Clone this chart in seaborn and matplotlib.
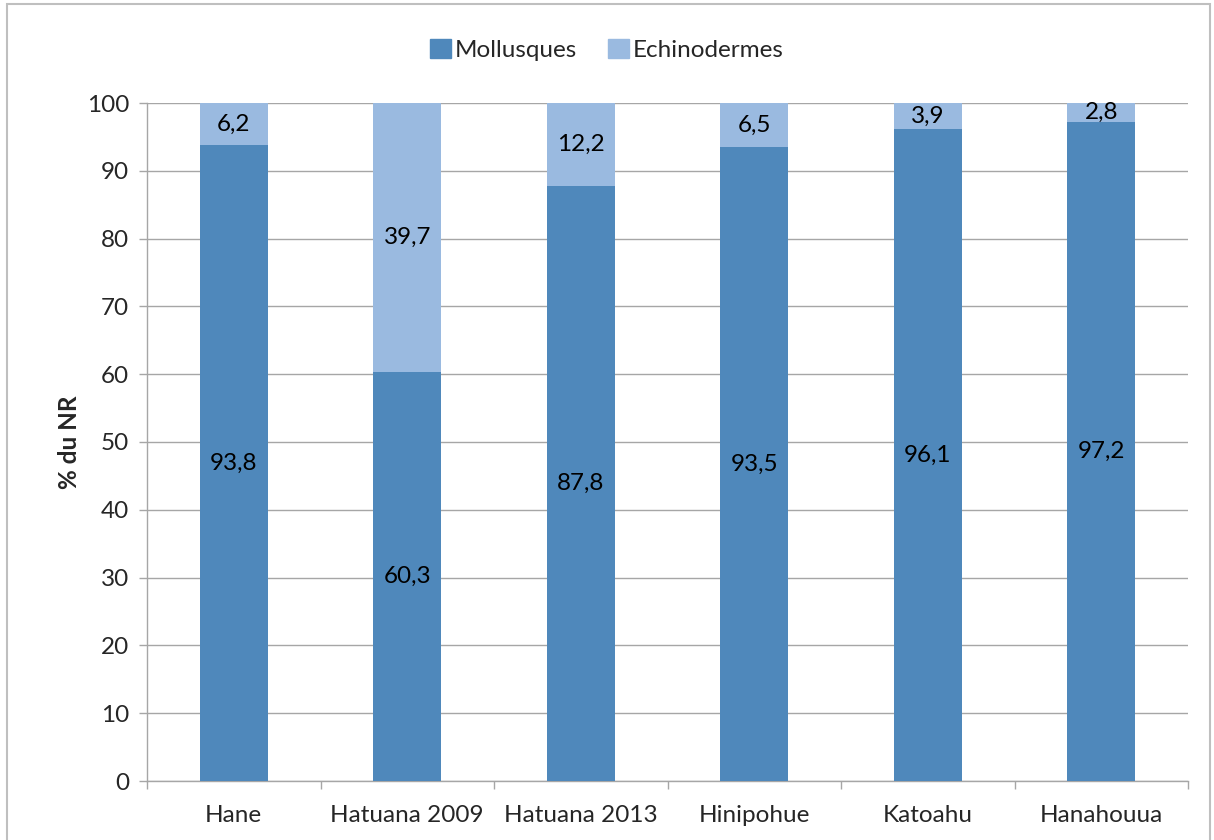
import numpy as np
import pandas as pd
import matplotlib
matplotlib.use("Agg")
import matplotlib.pyplot as plt
import seaborn as sns
from matplotlib.patches import Rectangle, Patch

sites = ["Hane", "Hatuana 2009", "Hatuana 2013", "Hinipohue", "Katoahu", "Hanahouua"]
mollusques = [93.8, 60.3, 87.8, 93.5, 96.1, 97.2]
echinodermes = [6.2, 39.7, 12.2, 6.5, 3.9, 2.8]

dark = "#4F88BB"
light = "#9ABAE0"
grey = "#A6A6A6"
fs = 17.5

sns.set_theme(style="white")
plt.rcParams["font.family"] = ["Lato", "DejaVu Sans"]

df = pd.DataFrame({"site": sites, "moll": mollusques, "echi": echinodermes})
df["total"] = df["moll"] + df["echi"]

fig = plt.figure(figsize=(12.14, 8.4), dpi=100)
ax = fig.add_axes([147 / 1214, 1 - 781 / 840, (1188 - 147) / 1214, (781 - 103) / 840])

# stacked: total bar (light) then mollusques (dark) on top
sns.barplot(data=df, x="site", y="total", color=light, saturation=1, width=0.39,
            linewidth=0, ax=ax, zorder=3)
sns.barplot(data=df, x="site", y="moll", color=dark, saturation=1, width=0.39,
            linewidth=0, ax=ax, zorder=3)

top_bars = ax.containers[0]
bot_bars = ax.containers[1]
for rect, m, e in zip(top_bars, mollusques, echinodermes):
    ax.text(rect.get_x() + rect.get_width() / 2, m + e / 2, f"{e:.1f}".replace(".", ","),
            ha="center", va="center", fontsize=fs, color="black", zorder=4)
for rect, m in zip(bot_bars, mollusques):
    ax.text(rect.get_x() + rect.get_width() / 2, m / 2, f"{m:.1f}".replace(".", ","),
            ha="center", va="center", fontsize=fs, color="black", zorder=4)

ax.set_ylim(0, 100)
ax.set_xlim(-0.5, len(sites) - 0.5)
ax.set_yticks(np.arange(0, 101, 10))
ax.yaxis.grid(True, color=grey, linewidth=1, zorder=0)
ax.set_axisbelow(True)
ax.set_xlabel("")
ax.set_ylabel("% du NR", fontsize=fs, fontweight="bold", labelpad=4)

ax.tick_params(axis="y", labelsize=fs, length=6, width=1, color=grey, pad=7, left=True)
ax.tick_params(axis="x", which="major", labelsize=fs, length=0, pad=17)
ax.set_xticks(np.arange(-0.5, len(sites), 1), minor=True)
ax.tick_params(axis="x", which="minor", length=6, width=1, color=grey, bottom=True)

for side in ["top", "right"]:
    ax.spines[side].set_visible(False)
for side in ["left", "bottom"]:
    ax.spines[side].set_color(grey)
    ax.spines[side].set_linewidth(1)

handles = [Patch(color=dark, label="Mollusques"), Patch(color=light, label="Echinodermes")]
fig.legend(handles=handles, loc="center", bbox_to_anchor=(0.5, 1 - 50 / 840), ncol=2,
           frameon=False, fontsize=fs, handlelength=0.85, handleheight=0.85,
           handletextpad=0.15, columnspacing=1.3)

# outer chart border
fig.patches.append(Rectangle((7 / 1214, -0.02), 1203 / 1214, 1.015, transform=fig.transFigure,
                             fill=False, edgecolor="#BFBFBF", linewidth=1.5))

fig.savefig("out.png", dpi=100)
